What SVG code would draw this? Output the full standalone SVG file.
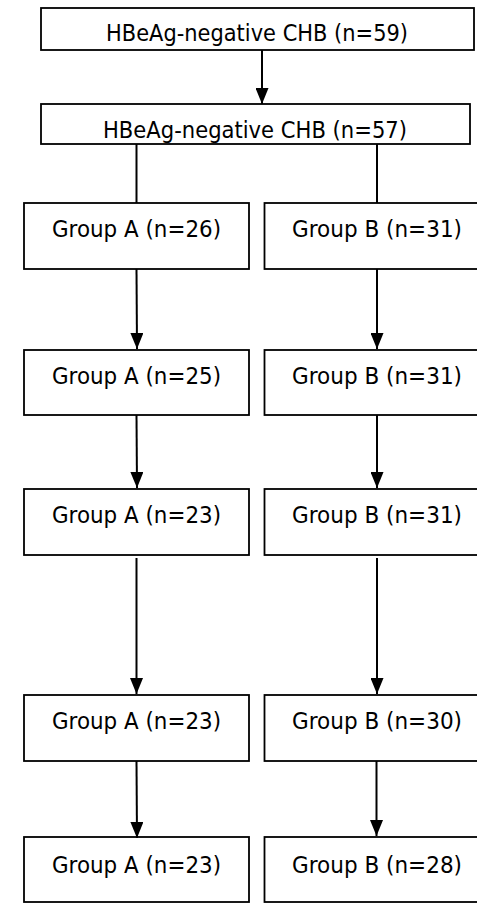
<svg xmlns="http://www.w3.org/2000/svg" width="477" height="903" viewBox="0 0 477 903">
<style>
rect.box{fill:#fff;stroke:#000;stroke-width:1.8}
text{font-family:"DejaVu Sans",Verdana,sans-serif;font-size:22.5px;fill:#000;text-anchor:middle}
.conn line{stroke:#000;stroke-width:2}
</style>
<defs>
<marker id="ah" markerUnits="userSpaceOnUse" markerWidth="16" markerHeight="13" refX="16" refY="6.5" orient="auto" viewBox="0 0 16 13">
<path d="M0,0 L16,6.5 L0,13 z" fill="#000"/>
</marker>
</defs>
<rect width="477" height="903" fill="#fff"/>
<g id="top1"><rect class="box" x="41" y="8" width="433" height="42"/><text x="257" y="41" textLength="302" lengthAdjust="spacingAndGlyphs">HBeAg-negative CHB (n=59)</text></g>
<g id="top2"><rect class="box" x="41" y="104" width="429" height="40"/><text x="255" y="138" textLength="304" lengthAdjust="spacingAndGlyphs">HBeAg-negative CHB (n=57)</text></g>
<g id="a1"><rect class="box" x="24" y="203" width="225" height="66"/><text x="136.5" y="237" textLength="169" lengthAdjust="spacingAndGlyphs">Group A (n=26)</text></g>
<g id="b1"><rect class="box" x="264.5" y="203" width="225" height="66"/><text x="377" y="237" textLength="170" lengthAdjust="spacingAndGlyphs">Group B (n=31)</text></g>
<g id="a2"><rect class="box" x="24" y="350" width="225" height="65"/><text x="136.5" y="384" textLength="169" lengthAdjust="spacingAndGlyphs">Group A (n=25)</text></g>
<g id="b2"><rect class="box" x="264.5" y="350" width="225" height="65"/><text x="377" y="384" textLength="170" lengthAdjust="spacingAndGlyphs">Group B (n=31)</text></g>
<g id="a3"><rect class="box" x="24" y="489" width="225" height="66"/><text x="136.5" y="523" textLength="169" lengthAdjust="spacingAndGlyphs">Group A (n=23)</text></g>
<g id="b3"><rect class="box" x="264.5" y="489" width="225" height="66"/><text x="377" y="523" textLength="170" lengthAdjust="spacingAndGlyphs">Group B (n=31)</text></g>
<g id="a4"><rect class="box" x="24" y="695" width="225" height="66"/><text x="136.5" y="729" textLength="169" lengthAdjust="spacingAndGlyphs">Group A (n=23)</text></g>
<g id="b4"><rect class="box" x="264.5" y="695" width="225" height="66"/><text x="377" y="729" textLength="170" lengthAdjust="spacingAndGlyphs">Group B (n=30)</text></g>
<g id="a5"><rect class="box" x="24" y="837" width="225" height="65"/><text x="136.5" y="873" textLength="169" lengthAdjust="spacingAndGlyphs">Group A (n=23)</text></g>
<g id="b5"><rect class="box" x="264.5" y="837" width="225" height="65"/><text x="377" y="873" textLength="170" lengthAdjust="spacingAndGlyphs">Group B (n=28)</text></g>
<g class="conn" id="connectors">
<line x1="262" y1="50" x2="262" y2="104" marker-end="url(#ah)"/>
<line x1="136.5" y1="144" x2="136.5" y2="203"/>
<line x1="377" y1="144" x2="377" y2="203"/>
<line x1="136.5" y1="269" x2="137" y2="349" marker-end="url(#ah)"/>
<line x1="377" y1="269" x2="377" y2="349" marker-end="url(#ah)"/>
<line x1="136.5" y1="415" x2="137" y2="488" marker-end="url(#ah)"/>
<line x1="377" y1="415" x2="377" y2="488" marker-end="url(#ah)"/>
<line x1="136.5" y1="558" x2="136.5" y2="694" marker-end="url(#ah)"/>
<line x1="377" y1="558" x2="377" y2="694" marker-end="url(#ah)"/>
<line x1="136.5" y1="761" x2="137" y2="838" marker-end="url(#ah)"/>
<line x1="376.5" y1="761" x2="376.5" y2="836" marker-end="url(#ah)"/>
</g>
</svg>
